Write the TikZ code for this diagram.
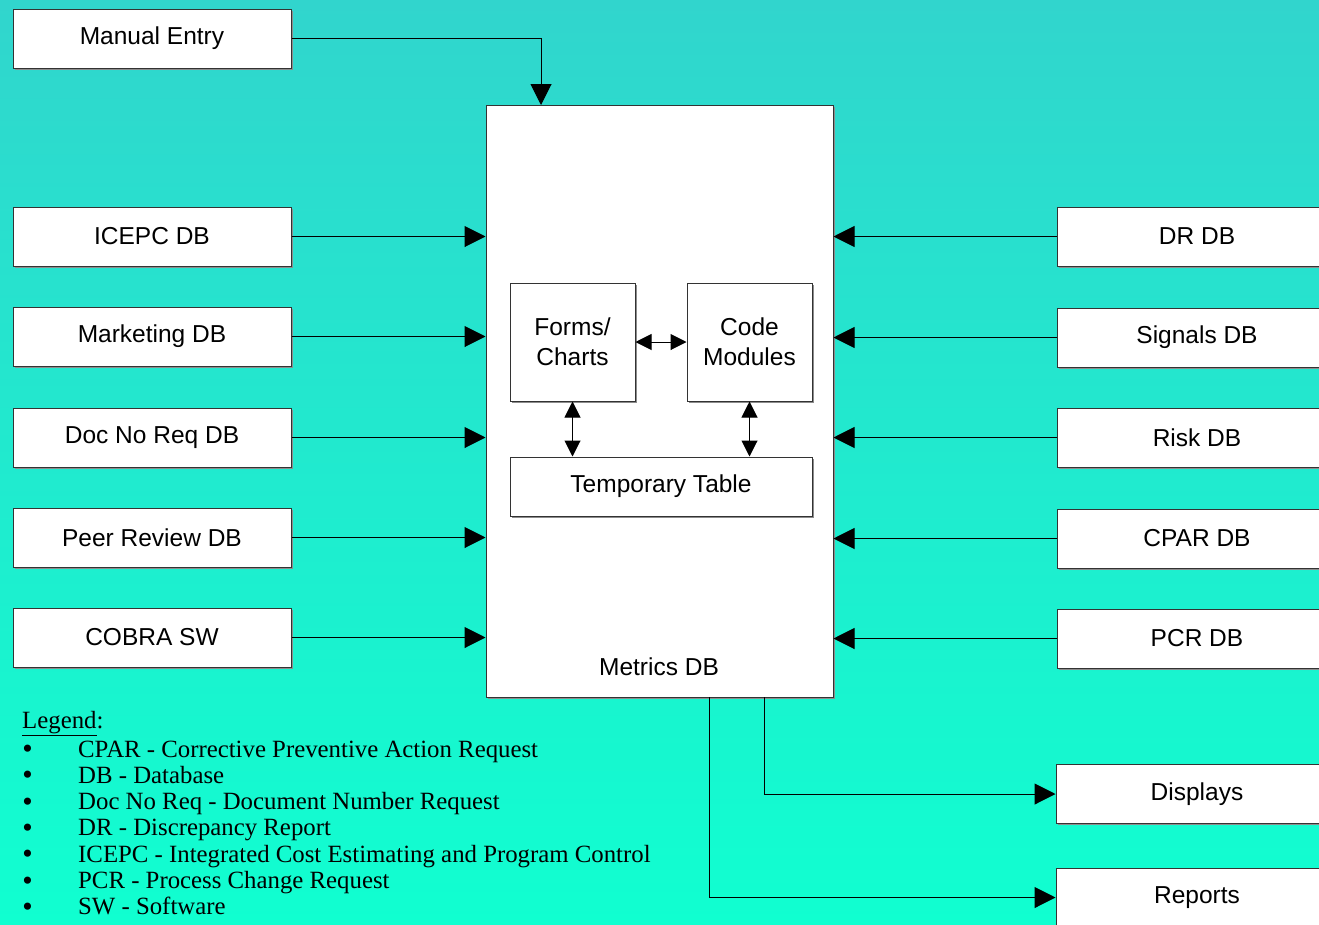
\documentclass[tikz,border=0pt]{standalone}
\usepackage{fontspec}
\setmainfont{Liberation Serif}
\setsansfont{Liberation Sans}
\usetikzlibrary{arrows.meta,shadows}
\definecolor{bgtop}{RGB}{49,213,205}
\definecolor{bgbot}{RGB}{16,255,208}

\begin{document}
\begin{tikzpicture}[x=1pt,y=-1pt,
    box/.style={draw=black!80,line width=1pt,fill=white,
      drop shadow={shadow xshift=1.5pt,shadow yshift=-1.5pt,fill=black!45,opacity=1},
      font=\sffamily\fontsize{24.5}{30}\selectfont,align=center,inner sep=0pt},
    legtext/.style={inner sep=0pt,font=\fontsize{24.8}{28}\selectfont},
    arr/.style={line width=1pt,-{Triangle[length=21pt,width=21pt]}},
    dbl/.style={line width=1pt,{Triangle[length=16pt,width=16pt]}-{Triangle[length=16pt,width=16pt]}}]
  \clip (0,0) rectangle (1319,924);
  \shade[top color=bgtop,bottom color=bgbot] (0,0) rectangle (1319,924);

  % sources on the left
  \node[box,minimum width=278pt,minimum height=59pt] (manual) at (152,38.5) {Manual Entry};
  \node[box,minimum width=278pt,minimum height=59pt] (icepc) at (152,236.5) {ICEPC DB};
  \node[box,minimum width=278pt,minimum height=59pt] (mkt) at (152,336.5) {Marketing DB};
  \node[box,minimum width=278pt,minimum height=59pt] (docno) at (152,437.5) {Doc No Req DB};
  \node[box,minimum width=278pt,minimum height=59pt] (peer) at (152,537.5) {Peer Review DB};
  \node[box,minimum width=278pt,minimum height=59pt] (cobra) at (152,637.5) {COBRA SW};

  % central database
  \node[box,minimum width=347pt,minimum height=592pt] (metrics) at (659.5,401) {};
  \node[font=\sffamily\fontsize{24.5}{30}\selectfont] (mlabel) at (659,667) {Metrics DB};
  \node[box,minimum width=125pt,minimum height=118pt] (forms) at (572.5,342) {Forms/\\Charts};
  \node[box,minimum width=125pt,minimum height=118pt] (code) at (749.5,342) {Code\\Modules};
  \node[box,minimum width=302pt,minimum height=59pt] (temp) at (661,486.5) {Temporary Table};

  % sources on the right
  \node[box,minimum width=280pt,minimum height=59pt] (dr) at (1197,236.5) {DR DB};
  \node[box,minimum width=280pt,minimum height=59pt] (sig) at (1197,337.5) {Signals DB};
  \node[box,minimum width=280pt,minimum height=59pt] (risk) at (1197,437.5) {Risk DB};
  \node[box,minimum width=280pt,minimum height=59pt] (cpar) at (1197,538.5) {CPAR DB};
  \node[box,minimum width=280pt,minimum height=59pt] (pcr) at (1197,638.5) {PCR DB};

  % outputs
  \node[box,minimum width=282pt,minimum height=59pt] (disp) at (1197,794) {Displays};
  \node[box,minimum width=282pt,minimum height=59pt] (rep) at (1197,897.5) {Reports};

  \coordinate (mtop) at (541,105);
  \coordinate (dout) at (764,697);
  \coordinate (rout) at (709,697);

  \draw[arr] (manual.east) -| (mtop);
  \foreach \src in {icepc,mkt,docno,peer,cobra}
    \draw[arr] (\src.east) -- (\src.east -| metrics.west);
  \foreach \src in {dr,sig,risk,cpar,pcr}
    \draw[arr] (\src.west) -- (\src.west -| metrics.east);
  \draw[dbl] (forms.east) -- (code.west);
  \draw[dbl] (forms.south) -- (forms.south |- temp.north);
  \draw[dbl] (code.south) -- (code.south |- temp.north);
  \draw[arr] (dout) |- (disp.west);
  \draw[arr] (rout) |- (rep.west);

  % legend
  \node[legtext,anchor=base west] (leg) at (22,728) {\underline{Legend}:};
  \foreach \txt [count=\i] in {CPAR - Corrective Preventive Action Request,
      DB - Database,
      Doc No Req - Document Number Request,
      DR - Discrepancy Report,
      ICEPC - Integrated Cost Estimating and Program Control,
      PCR - Process Change Request,
      SW - Software}{
    \node[legtext,anchor=base] (b\i) at (27.5,758.5+26.3*\i-26.3) {\smash{\scalebox{1.2}{\textbullet}}};
    \node[legtext,anchor=base west] (l\i) at (78,757+26.3*\i-26.3) {\txt};
  }
\end{tikzpicture}
\end{document}
